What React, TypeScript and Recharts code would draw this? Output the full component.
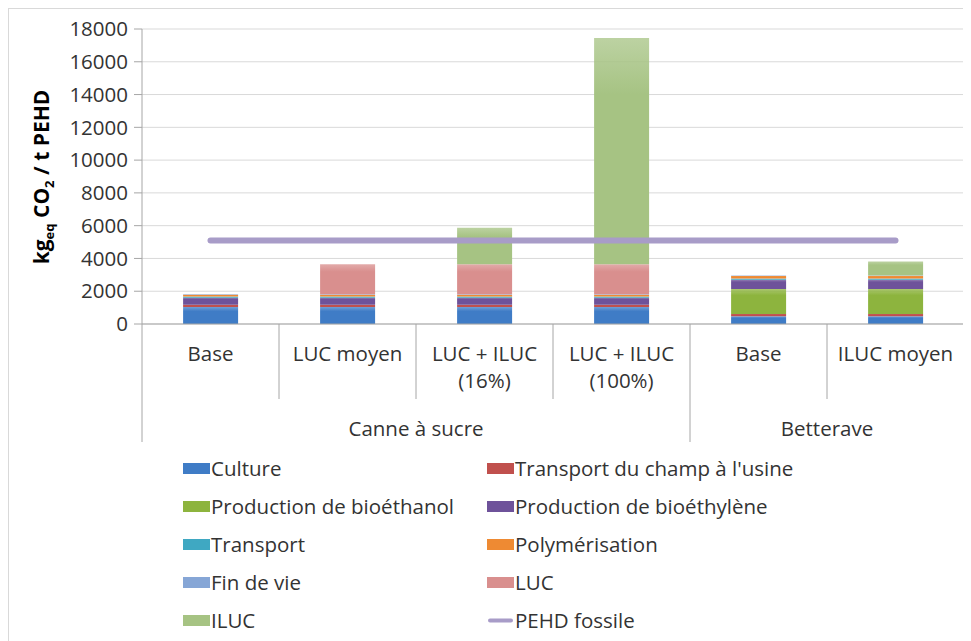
import { ComposedChart, Bar, Line, XAxis, YAxis, CartesianGrid } from "recharts";

const scenarios = [
  "Base",
  "LUC moyen",
  "LUC + ILUC (16%)",
  "LUC + ILUC (100%)",
  "Base",
  "ILUC moyen",
];
const groups = ["Canne à sucre", "Betterave"];
const groupSizes = [4, 2];

// kg eq CO2 per tonne of HDPE, by life-cycle step
const culture = [1030, 1030, 1030, 1030, 470, 470];
const transportChamp = [150, 150, 150, 150, 140, 140];
const bioethanol = [0, 0, 0, 0, 1520, 1520];
const bioethylene = [420, 420, 420, 420, 570, 570];
const transport = [80, 80, 80, 80, 80, 80];
const polymerisation = [100, 100, 100, 100, 150, 150];
const finDeVie = [30, 30, 30, 30, 30, 30];
const luc = [0, 1840, 1840, 1840, 0, 0];
const iluc = [0, 0, 2230, 13800, 0, 850];
const pehdFossile = [5100, 5100, 5100, 5100, 5100, 5100];

const yTicks = [0, 2000, 4000, 6000, 8000, 10000, 12000, 14000, 16000, 18000];

const series = [
  { key: "culture", name: "Culture", color: "#3F7CC6", values: culture },
  { key: "transportChamp", name: "Transport du champ à l'usine", color: "#C0504D", values: transportChamp },
  { key: "bioethanol", name: "Production de bioéthanol", color: "#8DB43E", values: bioethanol },
  { key: "bioethylene", name: "Production de bioéthylène", color: "#6E529A", values: bioethylene },
  { key: "transport", name: "Transport", color: "#3FA8C2", values: transport },
  { key: "polymerisation", name: "Polymérisation", color: "#EE8A33", values: polymerisation },
  { key: "finDeVie", name: "Fin de vie", color: "#86A6D6", values: finDeVie },
  { key: "luc", name: "LUC", color: "#D98F8E", values: luc },
  { key: "iluc", name: "ILUC", color: "#A6C383", values: iluc },
];

const LINE_COLOR = "#A89CC8";
const FONT = "'Open Sans', sans-serif";
const TEXT = "#333333";
const AXIS = "#A6A6A6";
const FS = 20.5;

const data = scenarios.map((scenario, i) => {
  const row: Record<string, string | number> = { scenario, pehd: pehdFossile[i] };
  series.forEach((s) => (row[s.key] = s.values[i]));
  return row;
});

const W = 962;
const H = 632;
const MARGIN = { top: 20, right: 7, left: 60, bottom: 199 };
const Y_AXIS_W = 73;
const BAND = (W - MARGIN.left - MARGIN.right - Y_AXIS_W) / scenarios.length;
const ROW_H = 75;
const AXIS_H = 118;

const groupStarts = groupSizes.map((_, g) =>
  groupSizes.slice(0, g).reduce((a, b) => a + b, 0)
);

const ScenarioTick = (props: any) => {
  const { x, y, index } = props;
  const label: string = scenarios[index];
  const cut = label.indexOf(" (");
  const lines = cut > 0 ? [label.slice(0, cut), label.slice(cut + 1)] : [label];
  const left = x - BAND / 2;
  const g = groupStarts.indexOf(index);
  const isLast = index === scenarios.length - 1;
  return (
    <g>
      <line x1={left} x2={left} y1={y} y2={y + (g >= 0 ? AXIS_H : ROW_H)} stroke={AXIS} />
      {isLast && (
        <line x1={left + BAND} x2={left + BAND} y1={y} y2={y + AXIS_H} stroke={AXIS} />
      )}
      {lines.map((t, k) => (
        <text key={k} x={x} y={y + 37 + k * 27} textAnchor="middle" fill={TEXT} fontSize={FS}>
          {t}
        </text>
      ))}
      {g >= 0 && (
        <text
          x={left + (groupSizes[g] * BAND) / 2}
          y={y + 112}
          textAnchor="middle"
          fill={TEXT}
          fontSize={FS}
        >
          {groups[g]}
        </text>
      )}
    </g>
  );
};

const YTitle = () => (
  <text
    x={40}
    y={168}
    transform="rotate(-90, 40, 168)"
    textAnchor="middle"
    fill="#000"
    fontSize={21}
    fontWeight="bold"
    fontFamily="'Open Sans', sans-serif"
  >
    kg
    <tspan fontSize={13} dy={5}>eq</tspan>
    <tspan dy={-5}> CO</tspan>
    <tspan fontSize={13} dy={5}>2</tspan>
    <tspan dy={-5}> / t PEHD</tspan>
  </text>
);

// light top edge on each stacked segment
const Gradients = () => (
  <defs>
    {series.map((s) => (
      <linearGradient key={s.key} id={`grad-${s.key}`} x1="0" y1="0" x2="0" y2="1">
        <stop offset="0%" stopColor={s.color} stopOpacity={0.75} />
        <stop offset="25%" stopColor={s.color} />
        <stop offset="100%" stopColor={s.color} />
      </linearGradient>
    ))}
  </defs>
);

const legendItems = [
  ...series.map((s) => ({ name: s.name, color: s.color, key: s.key, line: false })),
  { name: "PEHD fossile", color: LINE_COLOR, key: "pehd", line: true },
];

export default function App() {
  return (
    <div
      style={{
        position: "relative",
        width: 963,
        height: 633,
        borderTop: "1px solid #D9D9D9",
        borderLeft: "1px solid #D9D9D9",
        fontFamily: FONT,
        background: "#fff",
        overflow: "hidden",
      }}
    >
      <ComposedChart width={W} height={H} data={data} margin={MARGIN} barCategoryGap="30%">
        <Gradients />
        <CartesianGrid vertical={false} stroke="#D9D9D9" />
        <XAxis
          dataKey="scenario"
          height={AXIS_H}
          tickSize={0}
          tickMargin={0}
          axisLine={{ stroke: AXIS }}
          tickLine={false}
          interval={0}
          tick={<ScenarioTick />}
        />
        <YAxis
          width={Y_AXIS_W}
          domain={[0, 18000]}
          ticks={yTicks}
          interval={0}
          axisLine={{ stroke: AXIS }}
          tickLine={{ stroke: AXIS }}
          tickSize={8}
          tickMargin={6}
          tick={{ fill: TEXT, fontSize: FS }}
          label={<YTitle />}
        />
        {series.map((s) => (
          <Bar
            key={s.key}
            dataKey={s.key}
            name={s.name}
            stackId="a"
            fill={`url(#grad-${s.key})`}
            isAnimationActive={false}
          />
        ))}
        <Line
          dataKey="pehd"
          name="PEHD fossile"
          stroke={LINE_COLOR}
          strokeWidth={6}
          strokeLinecap="round"
          dot={false}
          activeDot={false}
          isAnimationActive={false}
        />
      </ComposedChart>
      <div
        style={{
          position: "absolute",
          left: 174,
          top: 440,
          display: "grid",
          gridTemplateColumns: "304px 420px",
          gridAutoRows: "38px",
          fontSize: FS,
          color: TEXT,
          whiteSpace: "nowrap",
        }}
      >
        {legendItems.map((it) => (
          <div key={it.key} style={{ display: "flex", alignItems: "center", gap: 1 }}>
            {it.line ? (
              <svg width={27} height={11} style={{ display: "block", flex: "none" }}>
                <line x1={3} x2={24} y1={5.5} y2={5.5} stroke={it.color} strokeWidth={4} strokeLinecap="round" />
              </svg>
            ) : (
              <svg width={27} height={11} style={{ display: "block", flex: "none" }}>
                <rect x={0.5} y={0.5} width={26} height={10} fill={it.color} stroke={it.color} />
              </svg>
            )}
            <span>{it.name}</span>
          </div>
        ))}
      </div>
    </div>
  );
}
